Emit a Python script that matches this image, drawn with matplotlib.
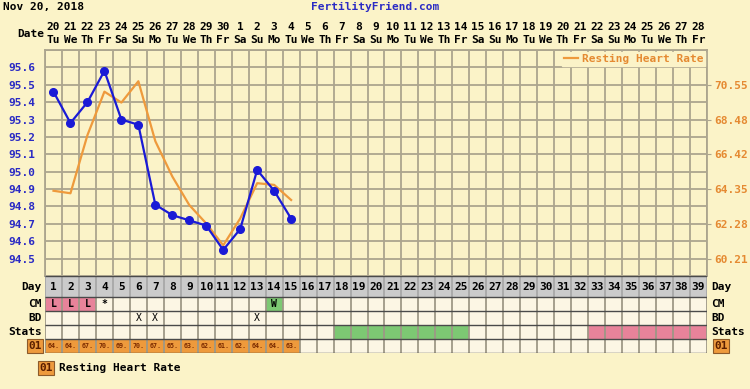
import matplotlib
matplotlib.use('Agg')
import matplotlib.pyplot as plt
import numpy as np

# ---- data ----
days = list(range(1, 40))
date_nums = ['20', '21', '22', '23', '24', '25', '26', '27', '28', '29', '30',
             '1', '2', '3', '4', '5', '6', '7', '8', '9', '10', '11', '12', '13', '14',
             '15', '16', '17', '18', '19', '20', '21', '22', '23', '24', '25', '26', '27', '28']
weekdays = ['Tu', 'We', 'Th', 'Fr', 'Sa', 'Su', 'Mo'] * 5 + ['Tu', 'We', 'Th', 'Fr']
temp_days = list(range(1, 16))
temps = [95.46, 95.28, 95.40, 95.58, 95.30, 95.27, 94.81, 94.75, 94.72, 94.69,
         94.55, 94.67, 95.01, 94.89, 94.73]
hr_values = [64.25, 64.1, 67.56, 70.15, 69.5, 70.77, 67.2, 65.1, 63.4, 62.3,
             61.0, 62.6, 64.7, 64.6, 63.7]
temp_ticks = [94.5, 94.6, 94.7, 94.8, 94.9, 95.0, 95.1, 95.2, 95.3, 95.4, 95.5, 95.6]
hr_ticks = [60.21, 62.28, 64.35, 66.42, 68.48, 70.55]
cm_marks = {1: 'L', 2: 'L', 3: 'L', 4: '*', 14: 'W'}
bd_days = [6, 7, 13]
stats_green = list(range(18, 26))
stats_pink = list(range(33, 40))

BG = '#FBF3C8'
GRID = '#ACA58E'
BLUE = '#1A1AD6'
BLUE_TXT = '#2B2BC4'
ORANGE = '#EE9A3C'
ORANGE_TXT = '#E58A32'
CELL = '#FCF6E4'
PINK = '#E8839A'
GREEN = '#7DC873'
FONT = 'DejaVu Sans Mono'

plt.rcParams.update({'font.family': FONT, 'font.weight': 'bold', 'font.size': 7.5})

W, H = 750, 389
fig = plt.figure(figsize=(W / 100, H / 100), dpi=100, facecolor=BG)


def frac(x0, y_top, w, h):
    return [x0 / W, 1 - (y_top + h) / H, w / W, h / H]


# ---- temperature chart ----
ax = fig.add_axes(frac(45, 50, 662, 226))
ax.set_facecolor(BG)
ax.set_xlim(0.5, 39.5)
ax.set_ylim(94.4, 95.7)
ax.set_xticks(np.arange(0.5, 40, 1))
ax.set_xticklabels([])
grid_y = np.round(np.arange(94.4, 95.75, 0.1), 1)
ax.set_yticks(grid_y)
ax.set_yticklabels([f'{t:.1f}' if t in temp_ticks else '' for t in grid_y],
                   color=BLUE_TXT, fontsize=8)
ax.tick_params(axis='both', length=0, pad=7)
ax.grid(True, color=GRID, lw=1.3)
ax.set_axisbelow(True)
for s in ax.spines.values():
    s.set_color(GRID)
    s.set_linewidth(1.3)

ax2 = ax.twinx()
hr_lo = 60.21 + (94.4 - 94.5) * 10.35
hr_hi = 60.21 + (95.7 - 94.5) * 10.35
ax2.set_ylim(hr_lo, hr_hi)
ax2.set_yticks(hr_ticks)
ax2.set_yticklabels([f'{v:.2f}' for v in hr_ticks], color=ORANGE_TXT, fontsize=8)
ax2.tick_params(axis='y', length=3, color=GRID, pad=2)
for s in ax2.spines.values():
    s.set_visible(False)

# orange line lives in ax (for stacking) but uses the heart-rate scale of ax2
hr_line, = ax.plot(temp_days, hr_values, color=ORANGE, lw=1.6, label='Resting Heart Rate',
                   transform=ax2.transData, zorder=2)
ax.plot(temp_days, temps, color=BLUE, lw=1.6, marker='o', ms=5.5, zorder=3)
ax.set_xlim(0.5, 39.5)
ax.set_ylim(94.4, 95.7)

leg = ax.legend(handles=[hr_line], loc='upper right', frameon=True, facecolor=BG, edgecolor=BG,
                framealpha=1, handlelength=1.3, handletextpad=0.3, borderpad=0.15,
                borderaxespad=0.2, fancybox=False,
                prop={'family': FONT, 'weight': 'bold', 'size': 8})
for t in leg.get_texts():
    t.set_color(ORANGE_TXT)

# header texts
xt = ax.get_xaxis_transform()
for d, n, w in zip(days, date_nums, weekdays):
    ax.text(d, 1 + 23 / 226, n, transform=xt, ha='center', va='center', fontsize=8)
    ax.text(d, 1 + 10 / 226, w, transform=xt, ha='center', va='center', fontsize=8)
fig.text(31 / W, 1 - 34 / H, 'Date', ha='center', va='center', fontsize=8)
fig.text(3 / W, 1 - 7 / H, 'Nov 20, 2018', ha='left', va='center', fontsize=8)
fig.text(375 / W, 1 - 7 / H, 'FertilityFriend.com', ha='center', va='center', fontsize=8,
         color=BLUE_TXT)

# ---- table under chart ----
tb = fig.add_axes(frac(45, 276, 662, 77))
tb.set_xlim(0.5, 39.5)
tb.set_ylim(77, 0)
tb.axis('off')
row_top = [0, 21, 35, 49, 63]
row_h = [21, 14, 14, 14, 14]

day_colors = ['#CBCBCB'] * len(days)
cm_colors = [PINK if cm_marks.get(d) == 'L' else GREEN if cm_marks.get(d) == 'W' else CELL for d in days]
bd_colors = [CELL] * len(days)
st_colors = [GREEN if d in stats_green else PINK if d in stats_pink else CELL for d in days]
hr_colors = [ORANGE if d in temp_days else CELL for d in days]
for top, h, cols in zip(row_top, row_h, [day_colors, cm_colors, bd_colors, st_colors, hr_colors]):
    tb.bar(days, h, bottom=top, width=1.0, color=cols, edgecolor='none')
    tb.vlines(np.arange(0.5, 40, 1), top, top + h, color='#9E9886' if top else '#A8A8A8', lw=1.3)
tb.hlines(row_top + [77], 0.5, 39.5, color='#4A4A4A', lw=1.0)

for d in days:
    tb.text(d, 10.5, str(d), ha='center', va='center', fontsize=8)
for d, m in cm_marks.items():
    tb.text(d, 28, m, ha='center', va='center', fontsize=7)
for d in bd_days:
    tb.text(d, 42, 'X', ha='center', va='center', fontsize=7, fontweight='normal')
for d, v in zip(temp_days, hr_values):
    tb.text(d, 70, f'{int(v)}.', ha='center', va='center', fontsize=4.8, color='#7A2A00')

# row labels
yt = tb.get_yaxis_transform()
for y, lab in zip([10.5, 28, 42, 56], ['Day', 'CM', 'BD', 'Stats']):
    tb.text(-3 / 662, y, lab, transform=yt, ha='right', va='center', fontsize=8)
    tb.text(1 + 4 / 662, y, lab, transform=yt, ha='left', va='center', fontsize=8)
box = dict(boxstyle='square,pad=0.15', fc=ORANGE, ec='#8C5A2A', lw=0.8)
tb.text(-10 / 662, 70, '01', transform=yt, ha='center', va='center', fontsize=8, color='#5A1E00', bbox=box)
tb.text(1 + 14 / 662, 70, '01', transform=yt, ha='center', va='center', fontsize=8, color='#5A1E00', bbox=box)

fig.text(46 / W, 1 - 368 / H, '01', ha='center', va='center', fontsize=8, color='#5A1E00', bbox=box)
fig.text(59 / W, 1 - 368 / H, 'Resting Heart Rate', ha='left', va='center', fontsize=8)

fig.savefig('out.png', dpi=100, facecolor=BG)
